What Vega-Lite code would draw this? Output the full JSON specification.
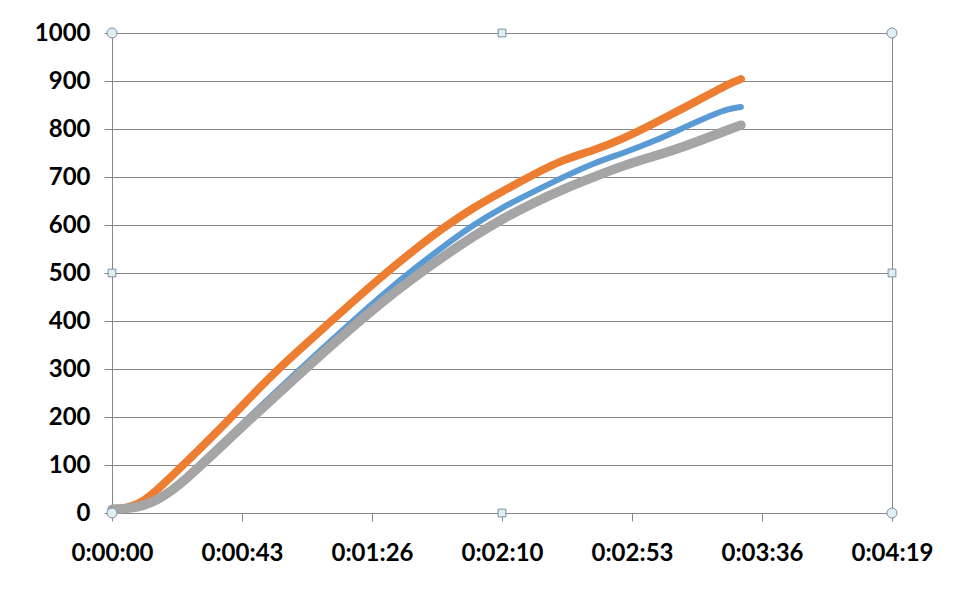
{
  "$schema": "https://vega.github.io/schema/vega-lite/v6.json",
  "width": 780,
  "height": 480,
  "autosize": {"type": "none"},
  "padding": {"left": 112, "top": 33, "right": 74, "bottom": 86},
  "background": "white",
  "config": {
    "view": {"stroke": "#878787", "strokeWidth": 1},
    "axis": {
      "gridColor": "#878787", "domainColor": "#878787", "tickColor": "#878787",
      "labelFont": "Lato", "labelFontWeight": "bold", "labelFontSize": 24, "labelColor": "#000000",
      "tickSize": 8, "title": null, "gridOpacity": 1, "labelFlush": false, "labelOverlap": false
    }
  },
  "datasets": {
    "series": [
      {"t": 0, "s": "blue", "v": 8}, {"t": 5, "s": "blue", "v": 9}, {"t": 10, "s": "blue", "v": 15}, {"t": 15, "s": "blue", "v": 29},
      {"t": 20, "s": "blue", "v": 50}, {"t": 25, "s": "blue", "v": 77}, {"t": 30, "s": "blue", "v": 106}, {"t": 35, "s": "blue", "v": 136},
      {"t": 40, "s": "blue", "v": 166}, {"t": 45, "s": "blue", "v": 196}, {"t": 50, "s": "blue", "v": 226}, {"t": 60, "s": "blue", "v": 285},
      {"t": 70, "s": "blue", "v": 343}, {"t": 80, "s": "blue", "v": 400}, {"t": 90, "s": "blue", "v": 455}, {"t": 100, "s": "blue", "v": 507},
      {"t": 110, "s": "blue", "v": 555}, {"t": 120, "s": "blue", "v": 600}, {"t": 130, "s": "blue", "v": 638}, {"t": 140, "s": "blue", "v": 669},
      {"t": 150, "s": "blue", "v": 700}, {"t": 160, "s": "blue", "v": 729}, {"t": 170, "s": "blue", "v": 750}, {"t": 180, "s": "blue", "v": 774},
      {"t": 190, "s": "blue", "v": 803}, {"t": 200, "s": "blue", "v": 831}, {"t": 205, "s": "blue", "v": 842}, {"t": 209, "s": "blue", "v": 846},
      {"t": 0, "s": "orange", "v": 8}, {"t": 5, "s": "orange", "v": 10}, {"t": 10, "s": "orange", "v": 22}, {"t": 15, "s": "orange", "v": 48},
      {"t": 20, "s": "orange", "v": 78}, {"t": 25, "s": "orange", "v": 108}, {"t": 30, "s": "orange", "v": 139}, {"t": 35, "s": "orange", "v": 170},
      {"t": 40, "s": "orange", "v": 202}, {"t": 45, "s": "orange", "v": 235}, {"t": 50, "s": "orange", "v": 267}, {"t": 55, "s": "orange", "v": 298},
      {"t": 60, "s": "orange", "v": 327}, {"t": 70, "s": "orange", "v": 384}, {"t": 80, "s": "orange", "v": 440}, {"t": 90, "s": "orange", "v": 495},
      {"t": 100, "s": "orange", "v": 546}, {"t": 110, "s": "orange", "v": 594}, {"t": 120, "s": "orange", "v": 636}, {"t": 130, "s": "orange", "v": 671},
      {"t": 140, "s": "orange", "v": 705}, {"t": 150, "s": "orange", "v": 737}, {"t": 160, "s": "orange", "v": 755}, {"t": 170, "s": "orange", "v": 780},
      {"t": 180, "s": "orange", "v": 811}, {"t": 190, "s": "orange", "v": 844}, {"t": 200, "s": "orange", "v": 877}, {"t": 205, "s": "orange", "v": 894}, {"t": 209, "s": "orange", "v": 904},
      {"t": 0, "s": "gray", "v": 8}, {"t": 5, "s": "gray", "v": 9}, {"t": 10, "s": "gray", "v": 14}, {"t": 15, "s": "gray", "v": 27},
      {"t": 20, "s": "gray", "v": 47}, {"t": 25, "s": "gray", "v": 73}, {"t": 30, "s": "gray", "v": 102}, {"t": 35, "s": "gray", "v": 131},
      {"t": 40, "s": "gray", "v": 161}, {"t": 45, "s": "gray", "v": 190}, {"t": 50, "s": "gray", "v": 219}, {"t": 60, "s": "gray", "v": 276},
      {"t": 70, "s": "gray", "v": 333}, {"t": 80, "s": "gray", "v": 388}, {"t": 90, "s": "gray", "v": 441}, {"t": 100, "s": "gray", "v": 489},
      {"t": 110, "s": "gray", "v": 534}, {"t": 120, "s": "gray", "v": 576}, {"t": 130, "s": "gray", "v": 614}, {"t": 140, "s": "gray", "v": 646},
      {"t": 150, "s": "gray", "v": 675}, {"t": 160, "s": "gray", "v": 700}, {"t": 170, "s": "gray", "v": 724}, {"t": 180, "s": "gray", "v": 743},
      {"t": 190, "s": "gray", "v": 763}, {"t": 200, "s": "gray", "v": 787}, {"t": 205, "s": "gray", "v": 799}, {"t": 209, "s": "gray", "v": 808}
    ],
    "handles": [
      {"hx": 0, "hy": 1000, "shape": "circle"}, {"hx": 259.2, "hy": 1000, "shape": "circle"},
      {"hx": 0, "hy": 0, "shape": "circle"}, {"hx": 259.2, "hy": 0, "shape": "circle"},
      {"hx": 129.6, "hy": 1000, "shape": "square"}, {"hx": 129.6, "hy": 0, "shape": "square"},
      {"hx": 0, "hy": 500, "shape": "square"}, {"hx": 259.2, "hy": 500, "shape": "square"}
    ]
  },
  "layer": [
    {
      "data": {"name": "series"},
      "transform": [{"filter": "datum.s === 'blue'"}],
      "mark": {"type": "line", "interpolate": "basis", "color": "#5B9BD5", "strokeWidth": 6, "strokeCap": "round", "strokeJoin": "round"},
      "encoding": {
        "x": {"field": "t", "type": "quantitative",
          "scale": {"domain": [0, 259.2], "nice": false, "zero": false},
          "axis": {"values": [0, 43.2, 86.4, 129.6, 172.8, 216, 259.2], "grid": false, "labelPadding": 20,
            "labelExpr": "'0:' + (floor(round(datum.value)/60) < 10 ? '0' : '') + floor(round(datum.value)/60) + ':' + (round(datum.value)%60 < 10 ? '0' : '') + (round(datum.value)%60)"}},
        "y": {"field": "v", "type": "quantitative",
          "scale": {"domain": [0, 1000], "nice": false},
          "axis": {"values": [0, 100, 200, 300, 400, 500, 600, 700, 800, 900, 1000], "grid": true, "labelPadding": 14, "format": "d"}}
      }
    },
    {
      "data": {"name": "series"},
      "transform": [{"filter": "datum.s === 'orange'"}],
      "mark": {"type": "line", "interpolate": "basis", "color": "#ED7D31", "strokeWidth": 8, "strokeCap": "round", "strokeJoin": "round"},
      "encoding": {
        "x": {"field": "t", "type": "quantitative"},
        "y": {"field": "v", "type": "quantitative"}
      }
    },
    {
      "data": {"name": "series"},
      "transform": [{"filter": "datum.s === 'gray'"}],
      "mark": {"type": "line", "interpolate": "basis", "color": "#A5A5A5", "strokeWidth": 9.5, "strokeCap": "round", "strokeJoin": "round"},
      "encoding": {
        "x": {"field": "t", "type": "quantitative"},
        "y": {"field": "v", "type": "quantitative"}
      }
    },
    {
      "data": {"name": "handles"},
      "mark": {"type": "point", "filled": true, "fill": "#dcf0f6", "stroke": "#7f8fa0", "strokeWidth": 1, "opacity": 1},
      "encoding": {
        "x": {"field": "hx", "type": "quantitative"},
        "y": {"field": "hy", "type": "quantitative"},
        "shape": {"field": "shape", "type": "nominal", "scale": null},
        "size": {"condition": {"test": "datum.shape === 'circle'", "value": 100}, "value": 60}
      }
    }
  ]
}
